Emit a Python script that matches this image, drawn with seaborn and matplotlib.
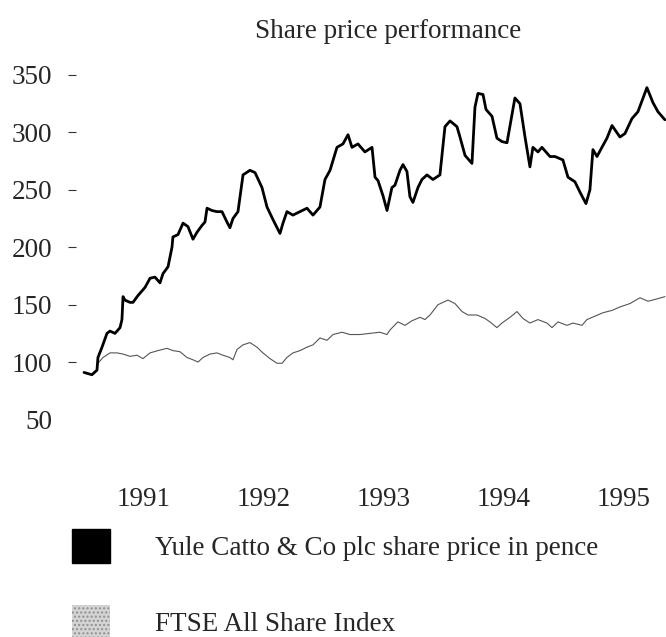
import pandas as pd
import seaborn as sns
import matplotlib.pyplot as plt
from matplotlib.patches import Patch

# dados (ano decimal, valor)
yule_ano = [1991.067, 1991.133, 1991.175, 1991.183, 1991.217, 1991.258, 1991.283, 1991.325,
            1991.367, 1991.383, 1991.392, 1991.408, 1991.45, 1991.475, 1991.517, 1991.575,
            1991.617, 1991.658, 1991.70, 1991.725, 1991.767, 1991.80, 1991.808, 1991.85,
            1991.892, 1991.933, 1991.975, 1992.008, 1992.05, 1992.075, 1992.092, 1992.133,
            1992.175, 1992.217, 1992.258, 1992.283, 1992.308, 1992.35, 1992.392, 1992.45,
            1992.492, 1992.55, 1992.592, 1992.642, 1992.70, 1992.725, 1992.758, 1992.808,
            1992.925, 1992.975, 1993.033, 1993.075, 1993.117, 1993.175, 1993.225, 1993.267,
            1993.30, 1993.35, 1993.408, 1993.467, 1993.492, 1993.517, 1993.558, 1993.592,
            1993.633, 1993.658, 1993.70, 1993.725, 1993.758, 1993.783, 1993.808, 1993.85,
            1993.883, 1993.925, 1993.975, 1994.033, 1994.075, 1994.117, 1994.175, 1994.20,
            1994.242, 1994.30, 1994.325, 1994.35, 1994.392, 1994.417, 1994.467, 1994.508,
            1994.55, 1994.592, 1994.658, 1994.70, 1994.742, 1994.783, 1994.808, 1994.85,
            1994.883, 1994.95, 1994.992, 1995.058, 1995.10, 1995.158, 1995.20, 1995.25,
            1995.283, 1995.308, 1995.342, 1995.383, 1995.425, 1995.467, 1995.533, 1995.575,
            1995.633, 1995.683, 1995.758, 1995.808, 1995.85, 1995.908]
yule_preco = [91, 89, 93, 104, 113, 125, 127, 125,
              130, 137, 157, 154, 152, 152, 158, 165,
              173, 174, 169, 177, 183, 200, 209, 211,
              221, 218, 207, 213, 219, 222, 234, 232,
              231, 231, 222, 217, 225, 231, 263, 267,
              265, 252, 235, 224, 212, 221, 231, 228,
              234, 228, 235, 259, 267, 287, 290, 298,
              287, 290, 283, 287, 261, 258, 245, 232,
              252, 254, 267, 272, 266, 244, 239, 252,
              259, 263, 259, 263, 305, 310, 305, 296,
              280, 273, 322, 334, 333, 320, 314, 295,
              292, 291, 330, 325, 296, 270, 287, 283,
              287, 279, 279, 276, 261, 257, 248, 238,
              250, 285, 279, 287, 295, 306, 296, 299,
              312, 318, 339, 326, 318, 311]

ftse_ano = [1991.183, 1991.225, 1991.283, 1991.342, 1991.392, 1991.45, 1991.508, 1991.558,
            1991.617, 1991.683, 1991.758, 1991.808, 1991.867, 1991.925, 1991.975, 1992.017,
            1992.058, 1992.117, 1992.175, 1992.225, 1992.283, 1992.308, 1992.342, 1992.392,
            1992.45, 1992.508, 1992.558, 1992.617, 1992.675, 1992.717, 1992.758, 1992.808,
            1992.867, 1992.925, 1992.975, 1993.033, 1993.092, 1993.142, 1993.217, 1993.283,
            1993.367, 1993.45, 1993.533, 1993.592, 1993.617, 1993.683, 1993.742, 1993.80,
            1993.867, 1993.908, 1993.95, 1994.017, 1994.10, 1994.158, 1994.217, 1994.267,
            1994.342, 1994.408, 1994.45, 1994.508, 1994.55, 1994.617, 1994.675, 1994.725,
            1994.783, 1994.85, 1994.925, 1994.967, 1995.017, 1995.092, 1995.142, 1995.217,
            1995.258, 1995.325, 1995.392, 1995.467, 1995.533, 1995.617, 1995.70, 1995.767,
            1995.842, 1995.908]
ftse_indice = [99, 104, 108, 108, 107, 105, 106, 103,
               108, 110, 112, 110, 109, 104, 102, 100,
               104, 107, 108, 106, 104, 102, 111, 115,
               117, 113, 108, 103, 99, 99, 104, 108,
               110, 113, 115, 121, 119, 124, 126, 124,
               124, 125, 126, 124, 128, 135, 132, 136,
               139, 137, 141, 150, 154, 151, 144, 141,
               141, 138, 135, 130, 134, 139, 144, 138,
               134, 137, 134, 130, 135, 132, 134, 132,
               137, 140, 143, 145, 148, 151, 156, 153,
               155, 157]

anos = ['1991', '1992', '1993', '1994', '1995']
pos_anos = [1991.56, 1992.56, 1993.56, 1994.56, 1995.56]
yticks = [50, 100, 150, 200, 250, 300, 350]

df_yule = pd.DataFrame({'ano': yule_ano, 'valor': yule_preco})
df_ftse = pd.DataFrame({'ano': ftse_ano, 'valor': ftse_indice})

sns.set_style('white')
plt.rcParams['font.family'] = ['Liberation Serif', 'DejaVu Serif']
fs = 19.5

fig = plt.figure(figsize=(6.66, 6.37), dpi=100)
ax = fig.add_axes([0.1141, 0.3234, 0.8859, 0.5769])

sns.lineplot(data=df_ftse, x='ano', y='valor', color='#555555', linewidth=0.8, ax=ax)
sns.lineplot(data=df_yule, x='ano', y='valor', color='black', linewidth=2.0, ax=ax)

ax.set_xlim(1991.0, 1995.917)
ax.set_ylim(40, 360)
ax.set_xlabel('')
ax.set_ylabel('')
for s in ax.spines.values():
    s.set_visible(False)

ax.set_yticks(yticks)
ax.set_yticklabels([str(v) for v in yticks], fontsize=fs)
ax.tick_params(axis='y', length=6, width=0.8, color='#333333', pad=11, left=True)
# sem tracinho no 50
ax.yaxis.get_major_ticks()[0].tick1line.set_visible(False)

ax.set_xticks(pos_anos)
ax.set_xticklabels(anos, fontsize=fs)
ax.tick_params(axis='x', length=0, pad=40)

fig.text(388 / 666, 1 - 31 / 637, 'Share price performance', ha='center', va='center', fontsize=fs)

handles = [Patch(facecolor='black', edgecolor='black'),
           Patch(facecolor='#d4d4d4', edgecolor='#909090', hatch='....', linewidth=0)]
fig.legend(handles, ['Yule Catto & Co plc share price in pence', 'FTSE All Share Index'],
           loc='upper left', bbox_to_anchor=(72 / 666, 1 - 529 / 637), frameon=False,
           fontsize=fs, handlelength=1.4, handleheight=1.55, handletextpad=1.65,
           labelspacing=1.55, borderpad=0, borderaxespad=0)

fig.savefig('out.png', dpi=100)
